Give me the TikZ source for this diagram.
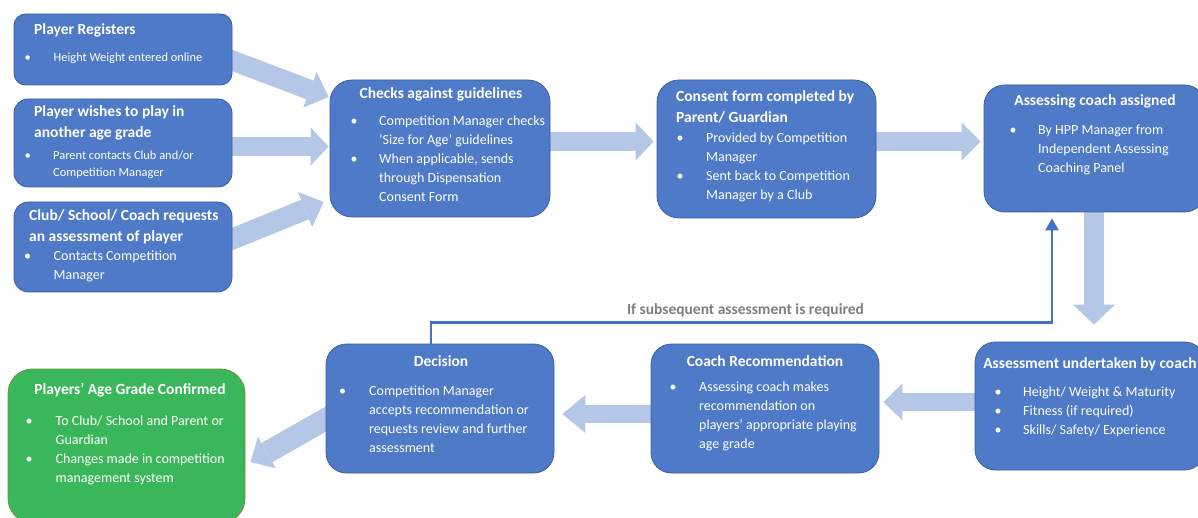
\documentclass[tikz,border=0pt]{standalone}
\usepackage{fontspec}
\setmainfont{Carlito}
\usetikzlibrary{arrows.meta,calc,backgrounds}
\definecolor{boxfill}{HTML}{4E7AC7}
\definecolor{boxline}{HTML}{3A5F9F}
\definecolor{arrowblue}{HTML}{B4C7E7}
\definecolor{greenfill}{HTML}{3BB75B}
\definecolor{greenline}{HTML}{6F8F3A}
\definecolor{fbblue}{HTML}{4472C4}
\definecolor{lblgray}{HTML}{7F7F7F}
\newcommand\bu{\makebox[0pt]{•}}
\newcommand\blist[2]{\begin{tabular}[t]{@{}l@{\hspace{#1pt}}l@{}}#2\end{tabular}}
\newcommand\tlft[1]{\begin{tabular}[t]{@{}l@{}}#1\end{tabular}}
\begin{document}
\begin{tikzpicture}[x=1pt,y=1pt,
  box/.style={draw=boxline, fill=boxfill, line width=0.8pt, inner sep=0pt},
  gbox/.style={draw=greenline, fill=greenfill, line width=0.8pt, inner sep=0pt},
  ttl/.style={text=white, inner sep=0pt, font=\fontsize{15.5}{21}\selectfont\bfseries},
  bdy/.style={text=white, inner sep=0pt, font=\fontsize{14}{19}\selectfont},
  sbdy/.style={text=white, inner sep=0pt, font=\fontsize{12.4}{17}\selectfont},
  blk/.style n args={3}{draw=arrowblue, line width=#1, -{Triangle[width=#2,length=#3,line width=0pt]}},
  fb/.style={draw=fbblue, line width=2.7pt, -{Triangle[width=13pt,length=12pt]}},
  lbl/.style={text=lblgray, inner sep=0pt, font=\fontsize{15.5}{18}\selectfont\bfseries}
]
\useasboundingbox (0,0) rectangle (1198,-518);

% boxes
\node[box, rounded corners=11.5pt, minimum width=218pt, minimum height=71pt] (A) at (123,-49.5) {};
\node[box, rounded corners=14pt, minimum width=218pt, minimum height=88pt] (B) at (123,-143) {};
\node[box, rounded corners=14.5pt, minimum width=218pt, minimum height=90pt] (C) at (123,-247) {};
\node[box, rounded corners=22pt, minimum width=220pt, minimum height=137pt] (D) at (440,-148.5) {};
\node[box, rounded corners=22pt, minimum width=219pt, minimum height=138pt] (E) at (766.5,-149) {};
\node[box, rounded corners=20.5pt, minimum width=221pt, minimum height=127pt] (F) at (1094.5,-148.5) {};
\node[box, rounded corners=20.5pt, minimum width=230pt, minimum height=128pt] (G) at (1090,-406) {};
\node[box, rounded corners=20.5pt, minimum width=228pt, minimum height=129pt] (H) at (765,-408.5) {};
\node[box, rounded corners=20.5pt, minimum width=228pt, minimum height=129pt] (I) at (440,-408.5) {};
\node[gbox, rounded corners=24.5pt, minimum width=237pt, minimum height=154pt] (J) at (126.5,-446) {};

% texts
\node[ttl, anchor=base west] (At) at (34,-35) {\tlft{Player Registers}};
\node[sbdy, anchor=base west] (Ab) at (27.5,-62) {\blist{26}{\bu & Height Weight entered online}};

\node[ttl, anchor=base west] (Bt) at (34,-117) {\tlft{Player wishes to play in\\another age grade}};
\node[sbdy, anchor=base west] (Bb) at (27.5,-160) {\blist{25.5}{\bu & Parent contacts Club and/or\\ & Competition Manager}};

\node[ttl, anchor=base west] (Ct) at (29,-221) {\tlft{Club/ School/ Coach requests\\an assessment of player}};
\node[bdy, anchor=base west] (Cb) at (27.5,-260.5) {\blist{26}{\bu & Contacts Competition\\ & Manager}};

\node[ttl, anchor=base] (Dt) at (441,-99) {Checks against guidelines};
\node[bdy, anchor=base west] (Db) at (354,-125.5) {\blist{25}{\bu & Competition Manager checks\\ & ‘Size for Age’ guidelines\\ \bu & When applicable, sends\\ & through Dispensation\\ & Consent Form}};

\node[ttl, anchor=base west] (Et) at (676,-102) {\tlft{Consent form completed by\\Parent/ Guardian}};
\node[bdy, anchor=base west] (Eb) at (680,-142.5) {\blist{26}{\bu & Provided by Competition\\ & Manager\\ \bu & Sent back to Competition\\ & Manager by a Club}};

\node[ttl, anchor=base] (Ft) at (1095,-106) {Assessing coach assigned};
\node[bdy, anchor=base west] (Fb) at (1013,-134.5) {\blist{25}{\bu & By HPP Manager from\\ & Independent Assessing\\ & Coaching Panel}};

\node[ttl, anchor=base] (Gt) at (1090,-368) {Assessment undertaken by coach};
\node[bdy, anchor=base west] (Gb) at (998,-396.5) {\blist{25}{\bu & Height/ Weight \& Maturity\\ \bu & Fitness (if required)\\ \bu & Skills/ Safety/ Experience}};

\node[ttl, anchor=base] (Ht) at (765,-366) {Coach Recommendation};
\node[bdy, anchor=base west] (Hb) at (673,-391.5) {\blist{26}{\bu & Assessing coach makes\\ & recommendation on\\ & players’ appropriate playing\\ & age grade}};

\node[ttl, anchor=base] (It) at (441,-366) {Decision};
\node[bdy, anchor=base west] (Ib) at (342.5,-395.5) {\blist{26.5}{\bu & Competition Manager\\ & accepts recommendation or\\ & requests review and further\\ & assessment}};

\node[ttl, anchor=base] (Jt) at (130,-394) {Players’ Age Grade Confirmed};
\node[bdy, anchor=base west] (Jb) at (29,-425.5) {\blist{26.5}{\bu & To Club/ School and Parent or\\ & Guardian\\ \bu & Changes made in competition\\ & management system}};

\node[lbl, anchor=base] (lab) at (745.5,-315) {If subsequent assessment is required};

% feedback connector
\draw[fb] ($(I.north)+(-9,0)$) |- ($(F.south)+(-42.5,-110)$) -- ($(F.south)+(-42.5,-6)$);

% block arrows behind boxes
\begin{scope}[on background layer]
\fill[white] (0,0) rectangle (1198,-518);
\draw[blk={20pt}{38pt}{20pt}] ($(A.east)+(-8,-8)$) -- ($(D.west)+(-1,51.5)$);
\draw[blk={19pt}{38pt}{18pt}] ($(B.east)+(-7,-3.5)$) -- ($(D.west)+(-1,2)$);
\draw[blk={21pt}{38pt}{20pt}] ($(C.east)+(-7.4,5)$) -- ($(D.west)+(-6,-53.5)$);
\draw[blk={19pt}{38pt}{18pt}] ($(D.east)+(-5,7)$) -- ($(E.west)+(-3,7.5)$);
\draw[blk={19pt}{38pt}{19pt}] ($(E.east)+(-5,7.5)$) -- ($(F.west)+(-3,7)$);
\draw[blk={20pt}{42pt}{20pt}] ($(F.south)+(-0.5,6)$) -- ($(G.north)+(4,17)$);
\draw[blk={18pt}{37pt}{19pt}] ($(G.west)+(5,4)$) -- ($(H.east)+(4,6.5)$);
\draw[blk={18pt}{38pt}{23pt}] ($(H.west)+(5,-5.5)$) -- ($(I.east)+(8,-5.5)$);
\draw[blk={22pt}{36pt}{19pt}] ($(I.west)+(8,-6.1)$) -- ($(J.east)+(5,-16)$);
\end{scope}
\end{tikzpicture}
\end{document}
